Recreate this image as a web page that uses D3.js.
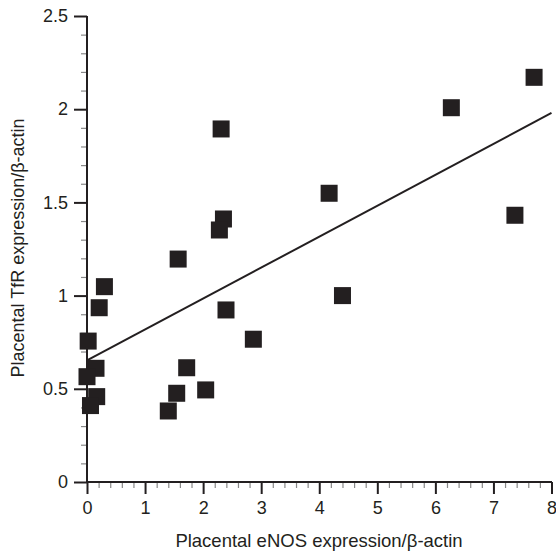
<!DOCTYPE html>
<html><head><meta charset="utf-8">
<script src="https://cdn.jsdelivr.net/npm/d3@7"></script>
<style>body{margin:0;background:#fff}svg{display:block}</style>
</head><body>
<svg id="c" width="556" height="551"></svg>
<script>
const eNOS = [0.30, 0.21, 0.02, 0.155, 0.00, 0.167, 0.06, 1.40, 1.545, 1.717, 2.044, 2.394, 2.865, 1.57, 2.31, 2.35, 2.28, 4.17, 4.40, 7.70, 6.275, 7.37];
const TfR  = [1.048, 0.935, 0.756, 0.61, 0.565, 0.458, 0.41, 0.381, 0.476, 0.613, 0.494, 0.923, 0.766, 1.196, 1.894, 1.411, 1.352, 1.549, 1.0, 2.171, 2.008, 1.431];
const fitIntercept = 0.652;
const fitSlope = 0.166;
const xTicks = [0,1,2,3,4,5,6,7,8];
const yTicks = [0,0.5,1,1.5,2,2.5];
const xLabel = "Placental eNOS expression/β-actin";
const yLabel = "Placental TfR expression/β-actin";

const svg = d3.select("#c");
const ink = "#231f20";
const x = d3.scaleLinear().domain([0,8]).range([87,551.5]);
const y = d3.scaleLinear().domain([0,2.5]).range([482,16]);
const font = "'Liberation Sans', Arial, sans-serif";

// minor ticks
const xMinor = d3.range(0,8.0001,0.2).filter(v=>Math.abs(v-Math.round(v))>1e-6);
const yMinor = d3.range(0,2.5001,0.1).filter(v=>Math.abs(v*2-Math.round(v*2))>1e-6);
const gx = svg.append("g").attr("transform","translate(0,482)");
gx.append("g").call(d3.axisBottom(x).tickValues(xMinor).tickSize(6).tickFormat(""))
  .call(g=>{g.select(".domain").remove(); g.selectAll("line").attr("stroke","#888").attr("stroke-width",1.2);});
gx.append("g").call(d3.axisBottom(x).tickValues(xTicks).tickSize(12).tickPadding(7).tickFormat(d3.format("d")))
  .call(g=>{g.select(".domain").attr("stroke",ink).attr("stroke-width",2).attr("d","M87,0H552");
    g.selectAll("line").attr("stroke",ink).attr("stroke-width",2);
    g.selectAll("text").attr("fill",ink).style("font-family",font).style("font-size","18px");});

const gy = svg.append("g").attr("transform","translate(87,0)");
gy.append("g").call(d3.axisLeft(y).tickValues(yMinor).tickSize(6).tickFormat(""))
  .call(g=>{g.select(".domain").remove(); g.selectAll("line").attr("stroke","#888").attr("stroke-width",1.2);});
gy.append("g").call(d3.axisLeft(y).tickValues(yTicks).tickSize(13).tickPadding(6).tickFormat(d=>String(d)))
  .call(g=>{g.select(".domain").attr("stroke",ink).attr("stroke-width",2).attr("d","M0,16V483");
    g.selectAll("line").attr("stroke",ink).attr("stroke-width",2);
    g.selectAll("text").attr("fill",ink).style("font-family",font).style("font-size","18px");});

// regression line
const fitX = [0, 8];
svg.append("path")
  .attr("d", d3.line().x(d=>x(d)).y(d=>y(fitIntercept+fitSlope*d))(fitX))
  .attr("stroke",ink).attr("stroke-width",2).attr("fill","none");

// points
const s = 17;
svg.append("g").selectAll("rect").data(eNOS.map((v,i)=>[v,TfR[i]])).join("rect")
  .attr("x",d=>x(d[0])-s/2).attr("y",d=>y(d[1])-s/2)
  .attr("width",s).attr("height",s).attr("fill",ink);

svg.append("text").attr("x",319).attr("y",547).attr("text-anchor","middle")
  .attr("fill",ink).style("font-family",font).style("font-size","18.5px").text(xLabel);
svg.append("text").attr("transform","translate(24,248) rotate(-90)").attr("text-anchor","middle")
  .attr("fill",ink).style("font-family",font).style("font-size","18px").text(yLabel);
</script>
</body></html>
